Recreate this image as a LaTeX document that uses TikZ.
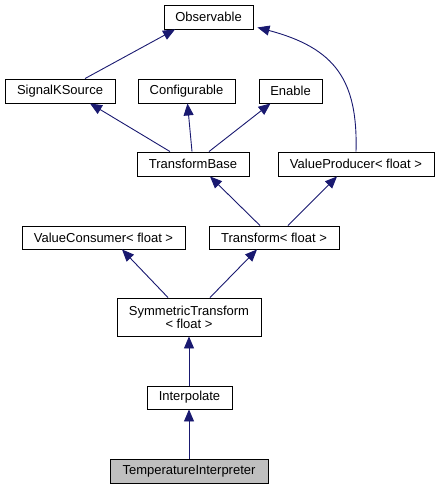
\documentclass[tikz,border=0pt]{standalone}
\usepackage{fontspec}
\setmainfont{Liberation Sans}
\usetikzlibrary{arrows.meta}

\begin{document}
\begin{tikzpicture}[x=1pt, y=-1pt]
    \definecolor{edgeColour}{HTML}{191970}
    \definecolor{fillColourLeaf}{HTML}{BFBFBF}

    \tikzset{
        classbox/.style={draw=black, line width=0.9pt, rectangle, inner sep=0pt,
            minimum height=24pt, align=center,
            font=\fontsize{13}{15}\selectfont},
        inherit/.style={draw=edgeColour, line width=0.9pt,
            -{Triangle[length=12pt,width=10pt]}}
    }

    % Fix the margins
    \useasboundingbox (0,0) rectangle (440,489);

    % Draw classes
    \node[classbox, minimum width=89pt]  (obs)    at (208.5,17)   {Observable};
    \node[classbox, minimum width=110pt] (sks)    at (60,91)      {SignalKSource};
    \node[classbox, minimum width=97pt]  (conf)   at (186.5,91)   {Configurable};
    \node[classbox, minimum width=63pt]  (enable) at (290.5,91)   {Enable};
    \node[classbox, minimum width=112pt] (tb)     at (193,164)    {TransformBase};
    \node[classbox, minimum width=156pt] (vp)     at (356,164)    {ValueProducer< float >};
    \node[classbox, minimum width=163pt, minimum height=23pt] (vc) at (103.5,237.5) {ValueConsumer< float >};
    \node[classbox, minimum width=130pt, minimum height=23pt] (tf) at (274,237.5)   {Transform< float >};
    \node[classbox, minimum width=144pt, minimum height=38pt] (sym) at (189,317)    {SymmetricTransform\\[-2pt]< float >};
    \node[classbox, minimum width=85pt, minimum height=23pt]  (interp) at (189.5,397.5) {Interpolate};
    \node[classbox, minimum width=158pt, fill=fillColourLeaf] (temp)   at (189,471)     {TemperatureInterpreter};

    % Draw inheritance arrows
    \draw[inherit] ([xshift=25pt]sks.north) -- ([xshift=-33.5pt]obs.south);
    \draw[inherit] (vp.north) .. controls (358,80) and (335,48) .. ([xshift=4pt,yshift=2pt]obs.south east);
    \draw[inherit] ([xshift=-23pt]tb.north) -- ([xshift=30pt]sks.south);
    \draw[inherit] ([xshift=-1pt]tb.north) -- ([xshift=1pt]conf.south);
    \draw[inherit] ([xshift=16pt]tb.north) -- ([xshift=-20pt]enable.south);
    \draw[inherit] ([xshift=-14pt]tf.north) -- ([xshift=17pt]tb.south);
    \draw[inherit] ([xshift=14pt]tf.north) -- ([xshift=-19pt]vp.south);
    \draw[inherit] ([xshift=-21pt]sym.north) -- ([xshift=18.5pt]vc.south);
    \draw[inherit] ([xshift=21pt]sym.north) -- ([xshift=-17pt]tf.south);
    \draw[inherit] (interp.north -| sym.south) -- (sym.south);
    \draw[inherit] (temp.north) -- (temp.north |- interp.south);

\end{tikzpicture}
\end{document}
